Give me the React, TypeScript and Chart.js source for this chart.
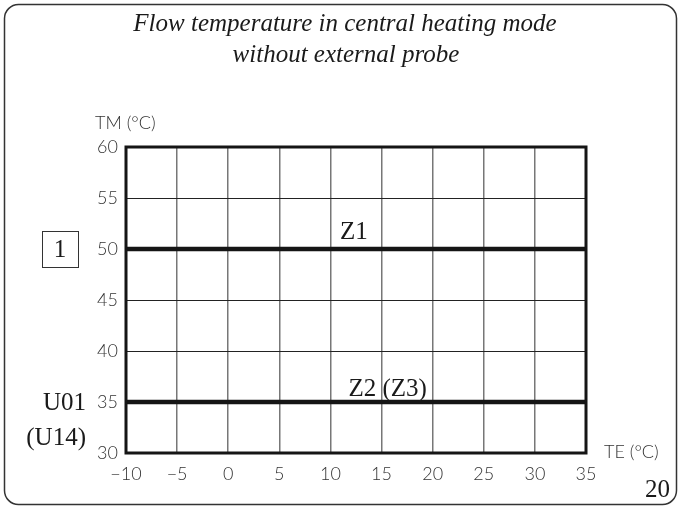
import { useEffect, useRef } from 'react';
import { Chart, registerables } from 'chart.js';

Chart.register(...registerables);

// ---- data ----
const teValues = [-10, 35];
const z1Values = [50, 50];
const z2Values = [35, 35];
const xTicks = [-10, -5, 0, 5, 10, 15, 20, 25, 30, 35];
const yTicks = [30, 35, 40, 45, 50, 55, 60];
const titleLines = ['Flow temperature in central heating mode', 'without external probe'];
const zoneLabelTexts = ['Z1', 'Z2 (Z3)'];
const zoneLabelX = [12.3, 15.6];
const zoneLabelY = [51.0, 35.6];
const xAxisTitle = 'TE (°C)';
const yAxisTitle = 'TM (°C)';
const paramBoxText = '1';
const paramBoxValue = 50;
const paramLabels = ['U01', '(U14)'];
const paramLabelValue = 35;
const pageNumber = '20';

const SANS = 'Lato, "DejaVu Sans", sans-serif';
const SERIF = '"Liberation Serif", "DejaVu Serif", serif';

const decorPlugin = {
  id: 'decor',
  beforeDraw(chart: any) {
    const ctx = chart.ctx;
    ctx.save();
    ctx.fillStyle = '#ffffff';
    ctx.fillRect(0, 0, chart.width, chart.height);
    ctx.strokeStyle = '#333';
    ctx.lineWidth = 1.5;
    ctx.beginPath();
    ctx.roundRect(4.5, 4.5, 672, 500, 14);
    ctx.stroke();
    ctx.restore();
  },
  afterDatasetsDraw(chart: any) {
    const ctx = chart.ctx;
    const xs = chart.scales.x;
    const ys = chart.scales.y;
    const a = chart.chartArea;
    ctx.save();
    ctx.strokeStyle = '#151515';
    ctx.lineWidth = 3;
    ctx.strokeRect(a.left, a.top, a.right - a.left, a.bottom - a.top);

    // title
    ctx.fillStyle = '#1a1a1a';
    ctx.font = `italic 25px ${SERIF}`;
    ctx.textAlign = 'center';
    ctx.textBaseline = 'alphabetic';
    ctx.fillText(titleLines[0], 345, 31);
    ctx.fillText(titleLines[1], 346, 62);

    // axis titles
    ctx.fillStyle = '#333';
    ctx.font = `300 18px ${SANS}`;
    ctx.textAlign = 'left';
    ctx.textBaseline = 'alphabetic';
    ctx.fillText(yAxisTitle, 95, 129);
    ctx.textBaseline = 'middle';
    ctx.fillText(xAxisTitle, 604, 452);

    // zone labels
    ctx.fillStyle = '#1a1a1a';
    ctx.font = `25px ${SERIF}`;
    ctx.textAlign = 'center';
    ctx.textBaseline = 'alphabetic';
    zoneLabelTexts.forEach((t, i) => {
      ctx.fillText(t, xs.getPixelForValue(zoneLabelX[i]), ys.getPixelForValue(zoneLabelY[i]));
    });

    // parameter box
    const by = ys.getPixelForValue(paramBoxValue);
    ctx.strokeStyle = '#333';
    ctx.lineWidth = 1;
    ctx.strokeRect(42.5, by - 17.5, 36, 36);
    ctx.font = `25px ${SERIF}`;
    ctx.textAlign = 'center';
    ctx.textBaseline = 'middle';
    ctx.fillText(paramBoxText, 60, by + 1);

    // parameter labels
    const py = ys.getPixelForValue(paramLabelValue);
    ctx.textAlign = 'right';
    ctx.fillText(paramLabels[0], 86, py + 1);
    ctx.fillText(paramLabels[1], 86, py + 36);

    // page number
    ctx.fillText(pageNumber, 670, 490);
    ctx.restore();
  },
};

export default function App() {
  const ref = useRef<HTMLCanvasElement | null>(null);
  useEffect(() => {
    if (!ref.current) return;
    const chart = new Chart(ref.current, {
      type: 'line',
      data: {
        datasets: [
          {
            label: 'Z1',
            data: teValues.map((x, i) => ({ x, y: z1Values[i] })),
            borderColor: '#151515',
            borderWidth: 4.5,
            pointRadius: 0,
            borderCapStyle: 'butt',
          },
          {
            label: 'Z2 (Z3)',
            data: teValues.map((x, i) => ({ x, y: z2Values[i] })),
            borderColor: '#151515',
            borderWidth: 4.5,
            pointRadius: 0,
            borderCapStyle: 'butt',
          },
        ],
      },
      options: {
        responsive: false,
        animation: false,
        devicePixelRatio: 1,
        layout: { padding: { top: 147, right: 95, left: 0, bottom: 0 } },
        plugins: { legend: { display: false }, tooltip: { enabled: false }, title: { display: false } },
        scales: {
          x: {
            type: 'linear',
            min: xTicks[0],
            max: xTicks[xTicks.length - 1],
            afterBuildTicks: (s: any) => { s.ticks = xTicks.map((v) => ({ value: v })); },
            afterFit: (s: any) => { s.height = 55; },
            grid: { color: '#777', lineWidth: 1.5, drawTicks: false },
            border: { display: false },
            ticks: {
              padding: 10,
              color: '#333',
              font: { family: SANS, size: 18, weight: 300 },
              maxRotation: 0,
              callback: (v: any) => (Number(v) < 0 ? '\u2212' + Math.abs(Number(v)) : String(v)),
            },
          },
          y: {
            type: 'linear',
            min: yTicks[0],
            max: yTicks[yTicks.length - 1],
            afterBuildTicks: (s: any) => { s.ticks = yTicks.map((v) => ({ value: v })); },
            afterFit: (s: any) => { s.width = 126; },
            grid: { color: '#222', lineWidth: 1, drawTicks: false },
            border: { display: false },
            ticks: {
              padding: 8,
              color: '#333',
              font: { family: SANS, size: 18, weight: 300 },
            },
          },
        },
      },
      plugins: [decorPlugin],
    } as any);
    return () => chart.destroy();
  }, []);
  return (
    <div style={{ position: 'fixed', left: 0, top: 0, width: 681, height: 508, background: '#fff' }}>
      <canvas ref={ref} width={681} height={508} style={{ display: 'block', width: 681, height: 508 }} />
    </div>
  );
}
